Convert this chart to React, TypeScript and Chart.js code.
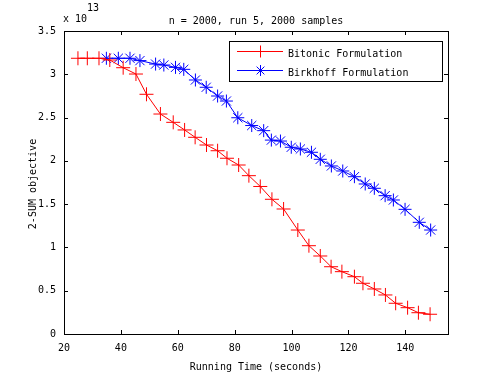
import React, { useEffect, useRef } from "react";
import { Chart, registerables } from "chart.js";
Chart.register(...registerables);

const titleText = "n = 2000, run 5, 2000 samples";
const xLabel = "Running Time (seconds)";
const yLabel = "2-SUM objective";
const legendLabels = ["Bitonic Formulation", "Birkhoff Formulation"];
const xTicks = [20, 40, 60, 80, 100, 120, 140];
const yTicks = [0, 0.5, 1, 1.5, 2, 2.5, 3, 3.5];

const bitonicTime = [24.9, 28.2, 32.3, 36.1, 40.8, 45.3, 49.0, 53.9, 58.4, 62.4, 66.1, 70.1, 74.0, 77.3, 81.4, 85.0, 89.0, 93.1, 97.2, 102.2, 106.1, 110.1, 113.9, 117.7, 122.1, 125.1, 129.1, 133.0, 136.6, 140.8, 144.6, 148.7];
const bitonicObj = [3.185, 3.185, 3.185, 3.165, 3.076, 3.003, 2.769, 2.541, 2.445, 2.357, 2.272, 2.183, 2.117, 2.03, 1.952, 1.829, 1.704, 1.556, 1.444, 1.201, 1.02, 0.901, 0.777, 0.72, 0.662, 0.586, 0.52, 0.451, 0.355, 0.304, 0.246, 0.228];

const birkhoffTime = [34.9, 39.1, 43.2, 46.7, 52.2, 55.1, 59.2, 62.1, 66.2, 70.0, 74.0, 77.1, 81.1, 86.0, 90.2, 92.9, 96.1, 99.9, 103.1, 107.0, 110.1, 114.0, 118.0, 122.1, 125.9, 129.1, 132.9, 135.8, 139.9, 144.9, 148.9];
const birkhoffObj = [3.185, 3.185, 3.185, 3.158, 3.118, 3.107, 3.08, 3.057, 2.934, 2.85, 2.749, 2.691, 2.498, 2.408, 2.349, 2.24, 2.229, 2.157, 2.137, 2.099, 2.018, 1.941, 1.883, 1.817, 1.733, 1.683, 1.598, 1.548, 1.44, 1.29, 1.201];

const FONT = "DejaVu Sans Mono";

const framePlugin = {
  id: "matlabFrame",
  afterDraw(chart: any) {
    const ctx = chart.ctx;
    const { left, right, top, bottom } = chart.chartArea;
    const xs = chart.scales.x;
    const ys = chart.scales.y;
    ctx.save();
    ctx.strokeStyle = "#000";
    ctx.lineWidth = 1;
    ctx.strokeRect(Math.round(left) + 0.5, Math.round(top) + 0.5, Math.round(right - left), Math.round(bottom - top));
    const tl = 4;
    ctx.beginPath();
    xTicks.forEach((v) => {
      const px = Math.round(xs.getPixelForValue(v)) + 0.5;
      ctx.moveTo(px, bottom);
      ctx.lineTo(px, bottom - tl);
      ctx.moveTo(px, top);
      ctx.lineTo(px, top + tl);
    });
    yTicks.forEach((v) => {
      const py = Math.round(ys.getPixelForValue(v)) + 0.5;
      ctx.moveTo(left, py);
      ctx.lineTo(left + tl, py);
      ctx.moveTo(right, py);
      ctx.lineTo(right - tl, py);
    });
    ctx.stroke();

    // texts
    ctx.fillStyle = "#000";
    ctx.font = `10px "${FONT}"`;
    ctx.textBaseline = "middle";
    ctx.textAlign = "center";
    ctx.fillText(titleText, (left + right) / 2, 21);
    ctx.fillText(xLabel, (left + right) / 2, 367);
    ctx.textAlign = "left";
    ctx.fillText("x 10", 63, 19);
    ctx.fillText("13", 87, 8);
    ctx.save();
    ctx.translate(33, 184);
    ctx.rotate(-Math.PI / 2);
    ctx.textAlign = "center";
    ctx.fillText(yLabel, 0, 0);
    ctx.restore();

    // legend
    const lx = 229, ly = 41, lw = 213, lh = 40;
    ctx.fillStyle = "#fff";
    ctx.fillRect(lx, ly, lw, lh);
    ctx.strokeStyle = "#000";
    ctx.strokeRect(lx + 0.5, ly + 0.5, lw, lh);
    const rows = [
      { y: 51.5, color: "#ff0000", style: "cross", r: 6 },
      { y: 70.5, color: "#0000ff", style: "star", r: 5.5 },
    ];
    rows.forEach((row, i) => {
      ctx.strokeStyle = row.color;
      ctx.lineWidth = 1;
      ctx.beginPath();
      ctx.moveTo(237, row.y);
      ctx.lineTo(283, row.y);
      ctx.stroke();
      ctx.beginPath();
      const cx = 260.5;
      ctx.moveTo(cx - row.r, row.y);
      ctx.lineTo(cx + row.r, row.y);
      ctx.moveTo(cx, row.y - row.r);
      ctx.lineTo(cx, row.y + row.r);
      if (row.style === "star") {
        const d = row.r * 0.7071;
        ctx.moveTo(cx - d, row.y - d);
        ctx.lineTo(cx + d, row.y + d);
        ctx.moveTo(cx - d, row.y + d);
        ctx.lineTo(cx + d, row.y - d);
      }
      ctx.stroke();
      ctx.fillStyle = "#000";
      ctx.textAlign = "left";
      ctx.textBaseline = "middle";
      ctx.fillText(legendLabels[i], 288, row.y + 3);
    });
    ctx.restore();
  },
};

export default function App() {
  const ref = useRef<HTMLCanvasElement | null>(null);
  useEffect(() => {
    if (!ref.current) return;
    const chart = new Chart(ref.current, {
      type: "line",
      data: {
        datasets: [
          {
            label: legendLabels[0],
            data: bitonicTime.map((t, i) => ({ x: t, y: bitonicObj[i] })),
            borderColor: "#ff0000",
            backgroundColor: "#ff0000",
            borderWidth: 1,
            pointStyle: "cross",
            pointRadius: 7,
            pointBorderWidth: 1,
            pointBorderColor: "#ff0000",
            tension: 0,
          },
          {
            label: legendLabels[1],
            data: birkhoffTime.map((t, i) => ({ x: t, y: birkhoffObj[i] })),
            borderColor: "#0000ff",
            backgroundColor: "#0000ff",
            borderWidth: 1,
            pointStyle: "star",
            pointRadius: 6.5,
            pointBorderWidth: 1,
            pointBorderColor: "#0000ff",
            tension: 0,
          },
        ],
      },
      options: {
        responsive: false,
        animation: false,
        layout: { padding: { top: 31, right: 47, left: 0, bottom: 0 } },
        plugins: { legend: { display: false }, title: { display: false }, tooltip: { enabled: false } },
        scales: {
          x: {
            type: "linear",
            min: 20,
            max: 155,
            grid: { display: false, drawTicks: false },
            border: { display: false },
            afterFit: (s: any) => { s.height = 41; },
            afterBuildTicks: (s: any) => { s.ticks = xTicks.map((v) => ({ value: v })); },
            ticks: {
              padding: 8,
              color: "#000",
              font: { family: FONT, size: 10 },
              maxRotation: 0,
              autoSkip: false,
              callback: (v: any) => String(v),
            },
          },
          y: {
            type: "linear",
            min: 0,
            max: 3.5,
            grid: { display: false, drawTicks: false },
            border: { display: false },
            afterFit: (s: any) => { s.width = 64; },
            afterBuildTicks: (s: any) => { s.ticks = yTicks.map((v) => ({ value: v })); },
            ticks: {
              padding: 8,
              color: "#000",
              font: { family: FONT, size: 10 },
              autoSkip: false,
              callback: (v: any) => String(v),
            },
          },
        },
      },
      plugins: [framePlugin],
    } as any);
    return () => chart.destroy();
  }, []);
  return (
    <div style={{ position: "fixed", left: 0, top: 0, width: 495, height: 375, background: "#fff" }}>
      <canvas ref={ref} width={495} height={375} style={{ width: 495, height: 375, display: "block" }} />
    </div>
  );
}
